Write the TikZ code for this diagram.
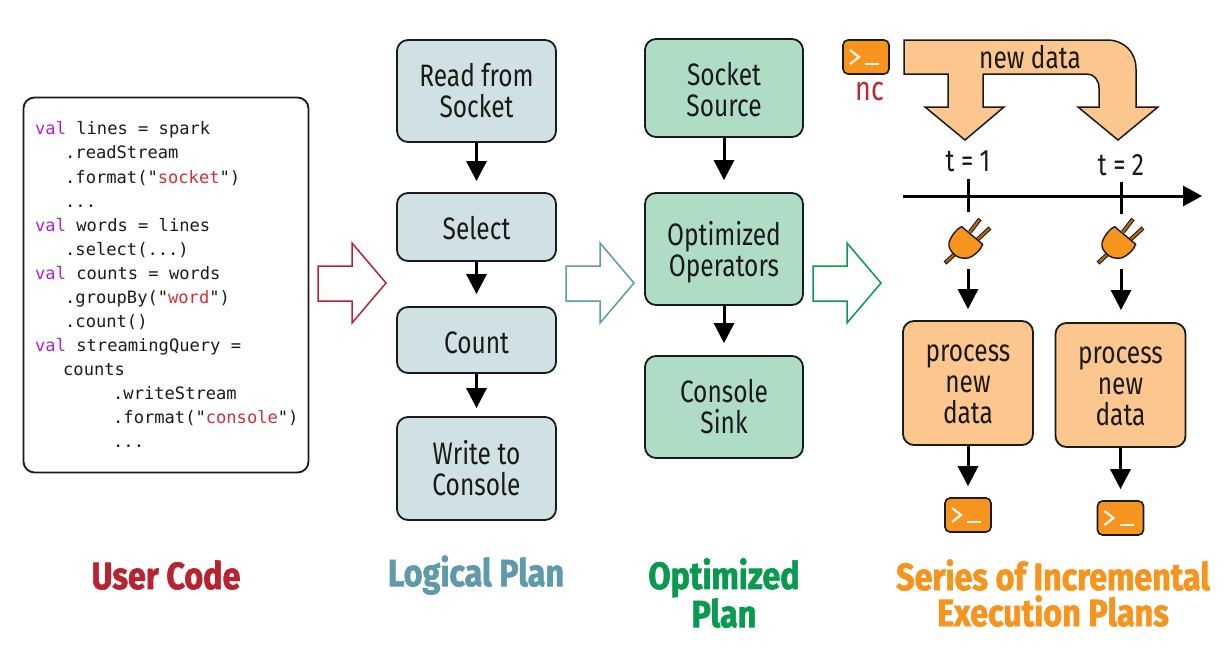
\documentclass[tikz,border=0pt]{standalone}
\usepackage{fontspec}
\setmainfont{Fira Sans}
\newfontfamily\cond[FakeStretch=0.79]{Fira Sans}
\newfontfamily\headf[FakeStretch=0.85,FakeBold=1.6]{Fira Sans Bold}
\newfontfamily\codef{DejaVu Sans Mono}
\usetikzlibrary{arrows.meta}
\definecolor{logfill}{HTML}{CFE1E3}
\definecolor{optfill}{HTML}{AEDCC4}
\definecolor{incfill}{HTML}{FCC78E}
\definecolor{termor}{HTML}{F7941D}
\definecolor{redc}{HTML}{B9232F}
\definecolor{tealc}{HTML}{5F9AA8}
\definecolor{greenc}{HTML}{0A9A4F}
\definecolor{strred}{HTML}{CF2F3A}
\definecolor{valpur}{HTML}{A626D3}
\definecolor{inkc}{HTML}{1A1A1A}
\definecolor{prong}{HTML}{B8690F}
\tikzset{
  x=1pt,y=-1pt,
  planbox/.style={draw=inkc,line width=1.8pt,rounded corners=11pt,inner sep=0pt,align=center,
    text=inkc,font=\cond\fontsize{31}{31}\selectfont},
  logbox/.style={planbox,fill=logfill,minimum width=159pt},
  optbox/.style={planbox,fill=optfill,minimum width=158pt},
  incbox/.style={planbox,fill=incfill,minimum width=130pt,minimum height=124pt},
  flow/.style={draw=black,line width=3pt,-{Triangle[width=20pt,length=20pt]}},
  codeline/.style={anchor=base west,inner sep=0pt,text=inkc,font=\codef\fontsize{17.1}{20}\selectfont},
  heading/.style={align=center,inner sep=0pt,font=\headf\fontsize{38}{36}\selectfont},
  label/.style={inner sep=0pt,text=inkc,font=\cond\fontsize{31}{31}\selectfont},
  termbox/.style={draw=inkc,line width=1.6pt,fill=termor,rounded corners=5pt,minimum width=46pt,minimum height=34pt,inner sep=0pt},
  termglyph/.style={draw=white!92!termor,line width=2.2pt},
  hollow/.style={line width=1.5pt,fill=white},
}
\newcommand{\kw}[1]{\textcolor{valpur}{#1}}
\newcommand{\str}[1]{\textcolor{strred}{#1}}
\newcommand{\dn}[1]{\rule{0pt}{#1pt}}
\newcommand{\hollowarrow}[2]{%
  \draw[hollow,draw=#2] (#1+318,266) -- (#1+352,266) -- (#1+352,243) -- (#1+386,283)
    -- (#1+352,323) -- (#1+352,301) -- (#1+318,301) -- cycle;}
\newcommand{\termicon}[2]{%
  \node[termbox] (#1) at (#2) {};
  \draw[termglyph] ([shift={(-16,-7)}]#1.center) -- ([shift={(-7,0)}]#1.center) -- ([shift={(-16,7)}]#1.center);
  \draw[termglyph] ([shift={(-1,7)}]#1.center) -- ([shift={(13,7)}]#1.center);}
\newcommand{\plugicon}[1]{%
  \begin{scope}[shift={(#1)}]
    \draw[line width=4.2pt,draw=inkc] (-22,20) -- (-10,9) (3,-11) -- (13,-24) (10,-3) -- (23,-15);
    \draw[line width=2.1pt,draw=prong] (-21,19) -- (-10,9) (3,-11) -- (12.4,-23.2) (10,-3) -- (22.3,-14.4);
    \draw[line width=1.4pt,draw=inkc,fill=termor,line join=round]
      (-5.3,-16.3) -- (15.7,1.3) .. controls (14,6) and (8,13) .. (1,15)
      .. controls (-5,16) and (-10,14) .. (-12,12)
      .. controls (-16,9) and (-19,4) .. (-18,0)
      .. controls (-17,-5) and (-11,-14) .. (-5.3,-16.3) -- cycle;
  \end{scope}}
\begin{document}
\begin{tikzpicture}
\useasboundingbox (0,0) rectangle (1226,656);

% user code
\node[draw=inkc,line width=1.8pt,rounded corners=11pt,minimum width=285pt,minimum height=375pt,inner sep=0pt] (code) at (166,285) {};
\node[codeline] (c1) at (35,134) {\kw{val} lines = spark};
\node[codeline] (c2) at (65,158) {.readStream};
\node[codeline] (c3) at (65,183) {.format("\str{socket}")};
\node[codeline] (c4) at (65,207) {...};
\node[codeline] (c5) at (35,231) {\kw{val} words = lines};
\node[codeline] (c6) at (65,255) {.select(...)};
\node[codeline] (c7) at (35,279) {\kw{val} counts = words};
\node[codeline] (c8) at (65,303) {.groupBy("\str{word}")};
\node[codeline] (c9) at (65,327) {.count()};
\node[codeline] (c10) at (35,351) {\kw{val} streamingQuery =};
\node[codeline] (c11) at (63,375) {counts};
\node[codeline] (c12) at (113,399) {.writeStream};
\node[codeline] (c13) at (113,423) {.format("\str{console}")};
\node[codeline] (c14) at (113,447) {...};

% hollow arrows
\hollowarrow{0}{redc}
\hollowarrow{248}{tealc}
\hollowarrow{495}{greenc}

% logical plan
\node[logbox,minimum height=102pt] (read) at (476.5,91) {Read from\\Socket};
\node[logbox,minimum height=68pt] (select) at (476.5,227) {\dn{25.5}Select};
\node[logbox,minimum height=66pt] (count) at (476.5,340) {\dn{27.5}Count};
\node[logbox,minimum height=103pt] (write) at (476.5,468.5) {Write to\\Console};
\draw[flow,shorten >=11pt] (read) -- (select);
\draw[flow,shorten >=12pt] (select) -- (count);
\draw[flow,shorten >=8pt] (count) -- (write);

% optimized plan
\node[optbox,minimum height=98pt] (source) at (724,88) {\dn{25.5}Socket\\Source};
\node[optbox,minimum height=112pt] (opt) at (724,249) {\dn{30}Optimized\\Operators};
\node[optbox,minimum height=102pt] (sink) at (724,407) {Console\\Sink};
\draw[flow,shorten >=12pt] (source) -- (opt);
\draw[flow,shorten >=12pt] (opt) -- (sink);

% new data
\termicon{nc}{866,57}
\node[label,text=strred!90!black,font=\cond\fontsize{34}{34}\selectfont] (nclabel) at (870,92) {nc};
\draw[draw=inkc,line width=1.5pt,fill=incfill,line join=miter]
  (904,40) -- (1107,40) .. controls (1124,40) and (1136,52) .. (1136,69) -- (1136,107)
  -- (1158,107) -- (1118,140) -- (1078,107) -- (1099,107) -- (1099,88)
  .. controls (1099,80) and (1094,74) .. (1087,74)
  -- (983,74) -- (983,107) -- (1004,107) -- (965,140) -- (925,107) -- (948,107)
  -- (948,74) -- (904,74) -- cycle;
\node[label] (newdata) at (1030,57) {new data};

% timeline
\coordinate (tstart) at (903,196);
\coordinate (tend) at (1202,196);
\draw[draw=black,line width=3pt,-{Triangle[width=20pt,length=19pt]}] (tstart) -- (tend);
\coordinate (t1a) at (968,179); \coordinate (t1b) at (968,212);
\coordinate (t2a) at (1121,182); \coordinate (t2b) at (1121,214);
\draw[black,line width=3pt] (t1a) -- (t1b);
\draw[black,line width=3pt] (t2a) -- (t2b);
\node[label] (t1) at (968,161) {t = 1};
\node[label] (t2) at (1121,165) {t = 2};

% plugs
\plugicon{967,243}
\plugicon{1120,243}

% execution
\node[incbox] (p1) at (968,383) {\dn{20}process\\new\\data};
\node[incbox] (p2) at (1120.5,385) {\dn{20}process\\new\\data};
\coordinate (pl1) at (968,269);
\coordinate (pl2) at (1121,269);
\draw[flow,shorten >=11pt] (pl1) -- (pl1 |- p1.north);
\draw[flow,shorten >=12pt] (pl2) -- (pl2 |- p2.north);
\termicon{o1}{968,515}
\termicon{o2}{1120.5,518}
\draw[flow,shorten >=11pt] (p1) -- (o1);
\draw[flow,shorten >=11pt] (p2) -- (o2);

% headings
\node[heading,text=redc] (h1) at (166,575) {User Code};
\node[heading,text=tealc] (h2) at (476,575) {Logical Plan};
\node[heading,text=greenc] (h3) at (724,593) {Optimized\\Plan};
\node[heading,text=termor] (h4) at (1053,593) {Series of Incremental\\Execution Plans};
\end{tikzpicture}
\end{document}
